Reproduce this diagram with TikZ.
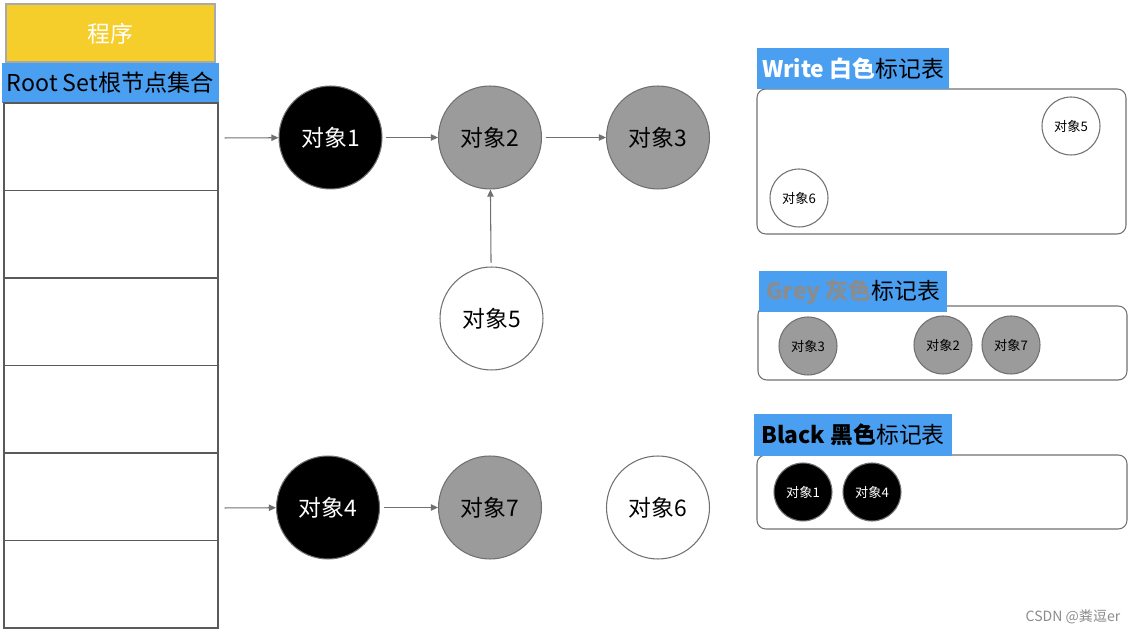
\documentclass[tikz,border=0pt]{standalone}
\usepackage{fontspec}
\setmainfont{Noto Sans CJK SC}
\usetikzlibrary{arrows.meta}
\definecolor{rootblue}{HTML}{4A9FF0}
\definecolor{progyellow}{HTML}{F5CE2C}
\definecolor{objgrey}{HTML}{9B9B9B}
\definecolor{linegrey}{HTML}{707070}
\definecolor{markgrey}{HTML}{8C8C8C}
\begin{document}
\begin{tikzpicture}[x=0.02cm,y=-0.02cm,line width=0.6pt,
	obj/.style={circle,draw=linegrey,fill=white,minimum size=2.06cm,inner sep=0pt,font=\fontsize{13}{15}\selectfont},
	smallobj/.style={obj,minimum size=1.16cm,font=\fontsize{7.5}{9}\selectfont},
	blackobj/.style={fill=black,text=white},
	greyobj/.style={fill=objgrey},
	link/.style={draw=linegrey,-{Triangle[length=4pt,width=3.6pt]},shorten <=2pt},
	marktable/.style={draw=linegrey,rounded corners=5pt},
	titletext/.style={inner sep=0pt,font=\fontsize{13}{15}\selectfont}]
		\useasboundingbox (0,0) rectangle (1134,634);
		% program and root set
		\filldraw [progyellow,draw=linegrey!60] (6,4) rectangle (215,62);
		\node [text=white,font=\fontsize{13}{15}\selectfont] (prog) at (110.5,34) {程序};
		\fill [rootblue] (2,63) rectangle (219,103);
		\node [font=\fontsize{13.2}{15}\selectfont] (root) at (110.5,83) {Root Set根节点集合};
		\draw [draw=linegrey!80!black] (4,103) rectangle (218,628);
		\foreach \i in {1,...,5}
		\draw [draw=linegrey!80!black] (4,103+87.5*\i)--(218,103+87.5*\i);
		\coordinate (ref1) at (221,138);
		\coordinate (ref4) at (221,508);
		% objects
		\node [obj,blackobj] (o1) at (330.5,137.5) {对象1};
		\node [obj,greyobj] (o2) at (490,137.5) {对象2};
		\node [obj,greyobj] (o3) at (658,137.5) {对象3};
		\node [obj] (o5) at (491.5,318.5) {对象5};
		\node [obj,blackobj] (o4) at (328,507.5) {对象4};
		\node [obj,greyobj] (o7) at (490,507.5) {对象7};
		\node [obj] (o6) at (658,507.5) {对象6};
		\draw [link] (ref1)--(o1);
		\draw [link] (o1)--(o2);
		\draw [link] (o2)--(o3);
		\draw [link] (o5)--(o2);
		\draw [link] (ref4)--(o4);
		\draw [link] (o4)--(o7);
		% write table
		\draw [marktable] (757,89) rectangle (1126,234);
		\fill [rootblue] (757,48) rectangle (949,89);
		\node [titletext] (wtitle) at (853,69) {\textcolor{white}{\bfseries Write 白色}标记表};
		\node [smallobj] (w5) at (1071,126) {对象5};
		\node [smallobj] (w6) at (799,198) {对象6};
		% grey table
		\draw [marktable] (758,306) rectangle (1127,380);
		\fill [rootblue] (759,271) rectangle (947,312);
		\node [titletext] (gtitle) at (853,292) {\textcolor{markgrey}{\bfseries Grey 灰色}标记表};
		\node [smallobj,greyobj] (g3) at (808,346) {对象3};
		\node [smallobj,greyobj] (g2) at (943,345) {对象2};
		\node [smallobj,greyobj] (g7) at (1011,345) {对象7};
		% black table
		\draw [marktable] (757,455) rectangle (1127,529);
		\fill [rootblue] (754,414) rectangle (952,456);
		\node [titletext] (btitle) at (853,435) {{\bfseries Black 黑色}标记表};
		\node [smallobj,blackobj] (b1) at (803,492) {对象1};
		\node [smallobj,blackobj] (b4) at (872,492) {对象4};
		\node [text=markgrey,font=\fontsize{8}{10}\selectfont] (mark) at (1073,617) {CSDN @粪逗er};
		\end{tikzpicture}
\end{document}
